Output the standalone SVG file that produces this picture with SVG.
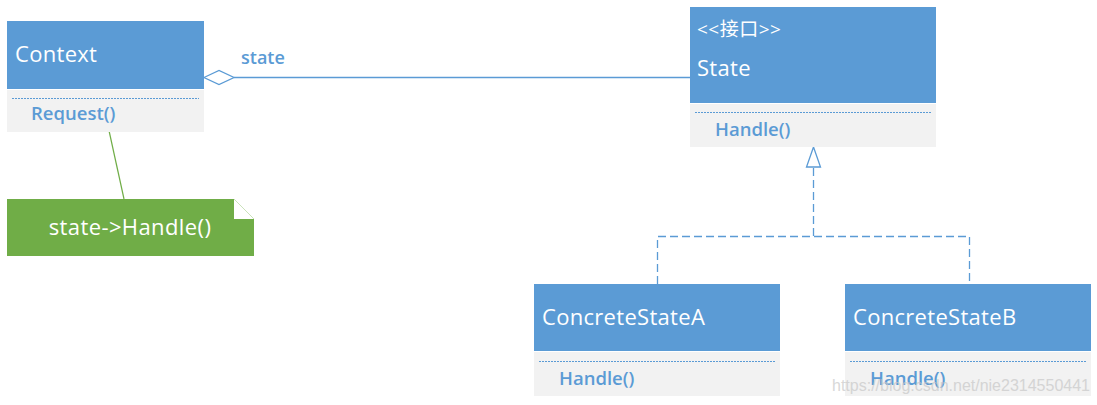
<svg xmlns="http://www.w3.org/2000/svg" width="1097" height="405" viewBox="0 0 1097 405">
<style>
.hdr{fill:#5B9BD5}
.body{fill:#F2F2F2}
.sep{stroke:#5B9BD5;stroke-width:1;stroke-dasharray:2 1;fill:none}
.title{font-family:"Open Sans","Noto Sans CJK SC",sans-serif;font-size:22px;fill:#FFFFFF}
.stereo{font-family:"Open Sans","Noto Sans CJK SC",sans-serif;font-size:19px;fill:#FFFFFF}
.op{font-family:"Open Sans",sans-serif;font-size:18.5px;font-weight:600;fill:#5B9BD5}
.lbl{font-family:"Open Sans",sans-serif;font-size:18px;font-weight:600;fill:#5B9BD5}
.conn{stroke:#5B9BD5;stroke-width:1.3;fill:none}
.dash{stroke-dasharray:8 4}
.note{font-family:"Open Sans",sans-serif;font-size:22px;fill:#FFFFFF}
.wm{font-family:"Liberation Sans",sans-serif;font-size:16px;fill:#C8C8C8;opacity:0.7}
</style>
<rect width="1097" height="405" fill="#FFFFFF"/>
<g id="connectors">
  <line x1="234" y1="77.5" x2="690" y2="77.5" class="conn"/>
  <polygon points="204,77.5 219,70.5 234,77.5 219,84.5" fill="#FFFFFF" stroke="#5B9BD5" stroke-width="1.3"/>
  <text x="241" y="64" class="lbl">state</text>
  <line x1="108" y1="126" x2="124" y2="199" stroke="#70AD47" stroke-width="1.2"/>
  <polyline points="657.5,284 657.5,236.5 969.5,236.5 969.5,284" class="conn dash"/>
  <line x1="813.5" y1="236" x2="813.5" y2="167" class="conn dash"/>
  <polygon points="813.5,147 806.5,167 820.5,167" fill="#FFFFFF" stroke="#5B9BD5" stroke-width="1.3"/>
</g>
<g id="context">
  <rect x="7" y="21" width="197" height="68" class="hdr"/>
  <rect x="7" y="90" width="197" height="42" class="body"/>
  <line x1="12" y1="98.5" x2="199" y2="98.5" class="sep"/>
  <text x="15" y="62" class="title" letter-spacing="0.3">Context</text>
  <text x="31" y="120" class="op">Request()</text>
</g>
<g id="note">
  <polygon points="7,199 234,199 254,219 254,256 7,256" fill="#70AD47"/>
  <polygon points="234,199 254,219 234,219" fill="#FFFFFF"/>
  <line x1="234" y1="199" x2="254" y2="219" stroke="#C5E0B4" stroke-width="0.8"/>
  <text x="130" y="235" class="note" text-anchor="middle" letter-spacing="0.4">state-&gt;Handle()</text>
</g>
<g id="state">
  <rect x="690" y="7" width="246" height="96" class="hdr"/>
  <rect x="690" y="104" width="246" height="43" class="body"/>
  <line x1="695" y1="112.5" x2="931" y2="112.5" class="sep"/>
  <text x="697" y="36" class="stereo" letter-spacing="0.5">&lt;&lt;接口&gt;&gt;</text>
  <text x="697" y="76" class="title" letter-spacing="0.3">State</text>
  <text x="715" y="136" class="op">Handle()</text>
</g>
<g id="concreteStateA">
  <rect x="534" y="284" width="246" height="67" class="hdr"/>
  <rect x="534" y="352" width="246" height="44" class="body"/>
  <line x1="539" y1="361.5" x2="775" y2="361.5" class="sep"/>
  <text x="542" y="325" class="title" letter-spacing="0.3">ConcreteStateA</text>
  <text x="559" y="385" class="op">Handle()</text>
</g>
<g id="concreteStateB">
  <rect x="845" y="284" width="246" height="67" class="hdr"/>
  <rect x="845" y="352" width="246" height="44" class="body"/>
  <line x1="850" y1="361.5" x2="1086" y2="361.5" class="sep"/>
  <text x="853" y="325" class="title" letter-spacing="0.3">ConcreteStateB</text>
  <text x="870" y="385" class="op">Handle()</text>
</g>
<text x="1090" y="391" class="wm" text-anchor="end">https://blog.csdn.net/nie2314550441</text>
</svg>
